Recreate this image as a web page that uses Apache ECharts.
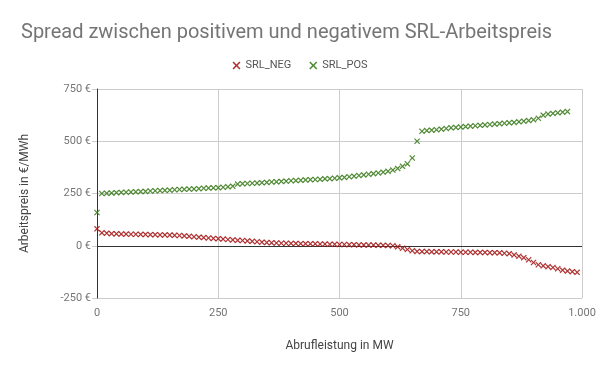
<!DOCTYPE html>
<html>
<head>
<meta charset="utf-8">
<script src="https://cdn.jsdelivr.net/npm/echarts@6/dist/echarts.min.js"></script>
<style>html,body{margin:0;padding:0;background:#fff}#c{width:600px;height:371px}</style>
</head>
<body>
<div id="c"></div>
<script>
var titleText = 'Spread zwischen positivem und negativem SRL-Arbeitspreis';
var seriesNames = ['SRL_NEG', 'SRL_POS'];
var xTicks = [0, 250, 500, 750, 1000];
var yTicks = [-250, 0, 250, 500, 750];

var mwNeg = [0,10,20,30,40,50,60,70,80,90,100,110,120,130,140,150,160,170,180,190,200,210,220,230,240,250,260,270,280,290,300,310,320,330,340,350,360,370,380,390,400,410,420,430,440,450,460,470,480,490,500,510,520,530,540,550,560,570,580,590,600,610,620,630,640,650,660,670,680,690,700,710,720,730,740,750,760,770,780,790,800,810,820,830,840,850,860,870,880,890,900,910,920,930,940,950,960,970,980,990];
var srlNeg = [81,62,60,58,57,56,56,55,55,54,54,53,53,52,52,51,50,49,47,45,43,41,39,37,35,34,32,30,28,26,25,23,21,19,17,15,14,13,12,12,11,11,10,10,9,9,8,8,7,7,6,6,5,5,4,4,3,3,2,2,1,0,-5,-12,-18,-24,-27,-28,-28,-29,-29,-29,-30,-30,-30,-31,-31,-31,-32,-32,-32,-33,-33,-34,-36,-38,-44,-50,-57,-67,-80,-91,-96,-100,-104,-110,-117,-121,-124,-127];

var mwPos = [0,10,20,30,40,50,60,70,80,90,100,110,120,130,140,150,160,170,180,190,200,210,220,230,240,250,260,270,280,290,300,310,320,330,340,350,360,370,380,390,400,410,420,430,440,450,460,470,480,490,500,510,520,530,540,550,560,570,580,590,600,610,620,630,640,650,660,670,680,690,700,710,720,730,740,750,760,770,780,790,800,810,820,830,840,850,860,870,880,890,900,910,920,930,940,950,960,970];
var srlPos = [159,250,251,252,254,255,256,257,258,259,260,262,263,264,265,266,268,269,270,271,272,273,275,276,277,278,280,282,285,295,297,298,299,300,302,303,305,306,308,309,311,312,313,315,316,317,318,320,321,323,325,327,330,333,336,339,342,345,348,352,356,362,370,380,392,420,500,548,551,553,555,558,561,564,566,568,570,572,574,576,578,580,582,584,586,588,590,593,596,599,603,610,625,630,633,636,639,642];

function pairs(xs, ys) { return xs.map(function (x, i) { return [x, ys[i]]; }); }

var xSym = 'path://M0,1.4L1.4,0L5,3.6L8.6,0L10,1.4L6.4,5L10,8.6L8.6,10L5,6.4L1.4,10L0,8.6L3.6,5Z';
var colNeg = '#a61c1c';
var colPos = '#3d7d1f';
var font = 'Roboto, "Noto Sans", sans-serif';

var chart = echarts.init(document.getElementById('c'), null, {renderer: 'canvas'});
chart.setOption({
  animation: false,
  backgroundColor: '#fff',
  textStyle: {fontFamily: font},
  title: {
    text: titleText, left: 16, top: 18,
    textStyle: {fontFamily: font, fontSize: 20, fontWeight: 'normal', color: '#757575'}
  },
  legend: {
    top: 55, left: 'center', itemWidth: 8, itemHeight: 8, itemGap: 18,
    textStyle: {fontFamily: font, fontSize: 11, color: '#555'},
    data: [{name: seriesNames[0], icon: xSym}, {name: seriesNames[1], icon: xSym}]
  },
  grid: {left: 97, right: 18, top: 89, bottom: 73, containLabel: false},
  xAxis: {
    type: 'value', min: xTicks[0], max: xTicks[xTicks.length - 1], interval: 250,
    name: 'Abrufleistung in MW', nameLocation: 'middle', nameGap: 42,
    nameTextStyle: {fontFamily: font, fontSize: 12, color: '#444'},
    axisLine: {show: false}, axisTick: {show: false},
    axisLabel: {fontFamily: font, fontSize: 11, color: '#757575', margin: 10,
      formatter: function (v) { return v >= 1000 ? (Math.floor(v / 1000) + '.' + String(v % 1000).padStart(3, '0')) : String(v); }},
    splitLine: {show: true, lineStyle: {color: '#cccccc', width: 1}}
  },
  yAxis: {
    type: 'value', min: yTicks[0], max: yTicks[yTicks.length - 1], interval: 250,
    name: 'Arbeitspreis in €/MWh', nameLocation: 'middle', nameGap: 66, nameRotate: 90,
    nameTextStyle: {fontFamily: font, fontSize: 12, color: '#444'},
    axisLine: {show: true, onZero: false, lineStyle: {color: '#333', width: 1}},
    axisTick: {show: true, length: 5, lineStyle: {color: '#cccccc'}},
    axisLabel: {fontFamily: font, fontSize: 11, color: '#757575', margin: 6,
      formatter: function (v) { return v + ' €'; }},
    splitLine: {show: true, lineStyle: {color: '#cccccc', width: 1}}
  },
  series: [
    {
      name: seriesNames[0], type: 'scatter', symbol: xSym, symbolSize: 6,
      itemStyle: {color: colNeg, opacity: 0.9},
      data: pairs(mwNeg, srlNeg), z: 3,
      markLine: {
        silent: true, symbol: ['none', 'none'], label: {show: false},
        lineStyle: {color: '#333', width: 1, type: 'solid'},
        data: [{yAxis: 0}], z: 2
      }
    },
    {
      name: seriesNames[1], type: 'scatter', symbol: xSym, symbolSize: 6,
      itemStyle: {color: colPos, opacity: 0.9},
      data: pairs(mwPos, srlPos), z: 3
    }
  ]
});
</script>
</body>
</html>
